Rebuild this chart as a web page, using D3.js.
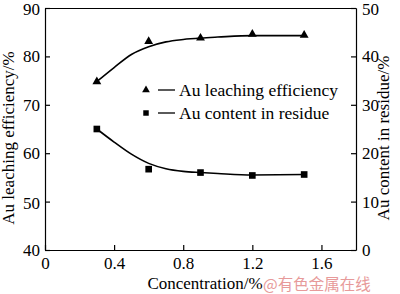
<!DOCTYPE html>
<html><head><meta charset="utf-8">
<script src="https://cdn.jsdelivr.net/npm/d3@7"></script>
<style>body{margin:0;background:#fff}svg{display:block}text{font-family:"Liberation Serif","Times New Roman",serif;fill:#000}</style>
</head><body>
<svg id="c" width="400" height="294"></svg>
<script>
const concentration = [0.3, 0.6, 0.9, 1.2, 1.5];
const leaching = [74.8, 83.1, 83.8, 84.6, 84.4];
const residue = [25.0, 16.7, 16.0, 15.4, 15.6];
const fitX = [0.3, 0.4, 0.5, 0.6, 0.7, 0.8, 0.9, 1.0, 1.2, 1.5];
const leachingFit = [74.8, 77.7, 80.4, 82.0, 83.0, 83.5, 83.8, 84.0, 84.3, 84.3];
const residueFit = [25.0, 22.3, 19.8, 17.9, 16.8, 16.25, 16.0, 15.8, 15.5, 15.6];
const xTicks = [0, 0.4, 0.8, 1.2, 1.6];
const yLeftTicks = [40, 50, 60, 70, 80, 90];
const yRightTicks = [0, 10, 20, 30, 40, 50];
const legendLabels = ["Au leaching efficiency", "Au content in residue"];

const svg = d3.select("#c");
const L = 45, R = 356, T = 8, B = 250;
const x = d3.scaleLinear().domain([0, 1.8]).range([L, R]);
const yL = d3.scaleLinear().domain([40, 90]).range([B, T]);
const yR = d3.scaleLinear().domain([0, 50]).range([B, T]);

const fs = "17px";
svg.append("g").attr("transform", `translate(0,${B})`)
  .call(d3.axisBottom(x).tickValues(xTicks).tickSizeInner(-5).tickSizeOuter(0).tickPadding(7).tickFormat(d3.format("")));
svg.append("g").attr("transform", `translate(0,${T})`)
  .call(d3.axisTop(x).tickValues([]).tickSizeOuter(0));
svg.append("g").attr("transform", `translate(${L},0)`)
  .call(d3.axisLeft(yL).tickValues(yLeftTicks).tickSizeInner(-5).tickSizeOuter(0).tickPadding(5));
svg.append("g").attr("transform", `translate(${R},0)`)
  .call(d3.axisRight(yR).tickValues(yRightTicks).tickSizeInner(-5).tickSizeOuter(0).tickPadding(6));
svg.selectAll(".domain").attr("stroke", "#000").attr("stroke-width", 1.2);
svg.selectAll(".tick line").attr("stroke", "#000").attr("stroke-width", 1.2);
svg.selectAll(".tick text").style("font-family", '"Liberation Serif",serif').style("font-size", fs).attr("fill", "#000");
svg.selectAll(".tick text").filter(d => d === 90 || d === 50).attr("dy", "0.4em");

const lineL = d3.line().x((d, i) => x(fitX[i])).y(d => yL(d)).curve(d3.curveMonotoneX);
const lineR = d3.line().x((d, i) => x(fitX[i])).y(d => yR(d)).curve(d3.curveMonotoneX);
svg.append("path").attr("d", lineL(leachingFit)).attr("fill", "none").attr("stroke", "#000").attr("stroke-width", 1.6);
svg.append("path").attr("d", lineR(residueFit)).attr("fill", "none").attr("stroke", "#000").attr("stroke-width", 1.6);

const tri = d3.symbol().type(d3.symbolTriangle).size(34);
const sq = d3.symbol().type(d3.symbolSquare).size(44);
svg.selectAll(".tri").data(leaching).enter().append("path")
  .attr("d", tri).attr("transform", (d, i) => `translate(${x(concentration[i])},${yL(d)})`).attr("fill", "#000");
svg.selectAll(".sq").data(residue).enter().append("path")
  .attr("d", sq).attr("transform", (d, i) => `translate(${x(concentration[i])},${yR(d)})`).attr("fill", "#000");

const lg = svg.append("g");
[0, 1].forEach(i => {
  const yy = 90 + i * 23;
  lg.append("path").attr("d", i === 0 ? d3.symbol().type(d3.symbolTriangle).size(26)() : d3.symbol().type(d3.symbolSquare).size(30)())
    .attr("transform", `translate(146,${yy})`).attr("fill", "#000");
  lg.append("line").attr("x1", 158).attr("x2", 175).attr("y1", yy).attr("y2", yy).attr("stroke", "#000").attr("stroke-width", 1.3);
  lg.append("text").attr("x", 179).attr("y", yy + 6).style("font-size", "17.5px").text(legendLabels[i]);
});

svg.append("text").attr("x", 205).attr("y", 289).attr("text-anchor", "middle").style("font-size", fs).text("Concentration/%");
svg.append("text").attr("transform", "translate(14,138) rotate(-90)").attr("text-anchor", "middle").style("font-size", fs).text("Au leaching efficiency/%");
svg.append("text").attr("transform", "translate(389,138) rotate(-90)").attr("text-anchor", "middle").style("font-size", fs).text("Au content in residue/%");

svg.append("text").attr("x", 263).attr("y", 290).style("font-family", '"Noto Sans CJK SC",sans-serif').style("font-size", "15.5px").style("fill", "#e79a9a").text("@有色金属在线");
</script>
</body></html>
